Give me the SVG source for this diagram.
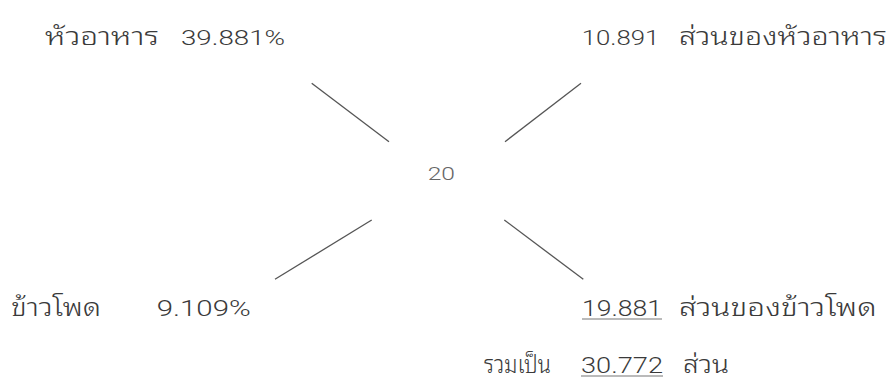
<svg xmlns="http://www.w3.org/2000/svg" width="891" height="379" viewBox="0 0 891 379">
<style>
.t{font-family:"Liberation Sans","Noto Sans Thai Looped","Noto Serif Thai","Noto Sans Thai","Noto Sans",sans-serif;fill:#3a3a3a;font-size:24px;font-weight:300}
.n{font-family:Roboto,"Liberation Sans",sans-serif;font-weight:300;fill:#3a3a3a;font-size:20px}
.b{font-size:25px}
.nb{font-size:22px}
.c{fill:#666;font-size:18px}
.ln{stroke:#555;stroke-width:1.3;fill:none}
.ul{stroke:#777;stroke-width:1.2}
</style>
<rect width="891" height="379" fill="#fff"/>
<g id="connectors">
<line class="ln" x1="311.7" y1="83.3" x2="389" y2="141.7"/>
<line class="ln" x1="581" y1="83.3" x2="505" y2="141.7"/>
<line class="ln" x1="371.7" y1="220" x2="275" y2="279.3"/>
<line class="ln" x1="504.3" y1="220" x2="583.3" y2="279.3"/>
</g>
<g id="n-center"><text class="n c" x="427.7" y="180" textLength="27.3" lengthAdjust="spacingAndGlyphs">20</text></g>
<g id="n-topleft">
<text class="t" x="45" y="45" textLength="114" lengthAdjust="spacingAndGlyphs">หัวอาหาร</text>
<text class="n" x="181" y="45" textLength="104" lengthAdjust="spacingAndGlyphs">39.881%</text>
</g>
<g id="n-topright">
<text class="n" x="581.7" y="45" textLength="77.6" lengthAdjust="spacingAndGlyphs">10.891</text>
<text class="t" x="679" y="45" textLength="208" lengthAdjust="spacingAndGlyphs">ส่วนของหัวอาหาร</text>
</g>
<g id="n-bottomleft">
<text class="t b" x="11" y="316" textLength="90" lengthAdjust="spacingAndGlyphs">ข้าวโพด</text>
<text class="n nb" x="156.7" y="316" textLength="94" lengthAdjust="spacingAndGlyphs">9.109%</text>
</g>
<g id="n-bottomright">
<text class="n nb" x="582" y="316" textLength="80" lengthAdjust="spacingAndGlyphs">19.881</text>
<line class="ul" x1="582" y1="319" x2="662" y2="319"/>
<text class="t b" x="679" y="316" textLength="197.7" lengthAdjust="spacingAndGlyphs">ส่วนของข้าวโพด</text>
</g>
<g id="n-total">
<text class="t b" x="484" y="373" textLength="67" lengthAdjust="spacingAndGlyphs">รวมเป็น</text>
<text class="n nb" x="581" y="373" textLength="82" lengthAdjust="spacingAndGlyphs">30.772</text>
<line class="ul" x1="581" y1="376" x2="663" y2="376"/>
<text class="t b" x="683" y="373" textLength="46" lengthAdjust="spacingAndGlyphs">ส่วน</text>
</g>
</svg>
